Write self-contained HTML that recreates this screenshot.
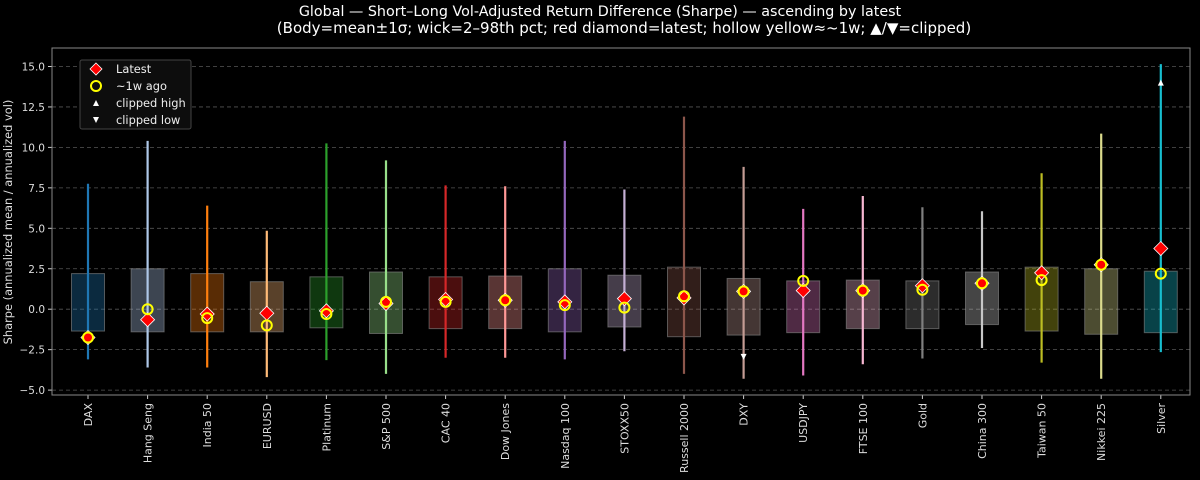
<!DOCTYPE html>
<html><head><meta charset="utf-8"><style>
html,body{margin:0;padding:0;background:#000;}
svg{display:block;font-family:"DejaVu Sans","Liberation Sans",sans-serif;}
</style></head><body>
<svg id="s" width="1200" height="480" xmlns="http://www.w3.org/2000/svg"></svg>
<script>
const s=document.getElementById('s');
const X0=52,X1=1190,T=48,B=395;
const y=v=>309.2-v*16.18;
const x=i=>88+i*59.6;
let h='<rect width="1200" height="480" fill="#000"/>';
h+='<text x="600" y="16" fill="#fff" font-size="14.3" text-anchor="middle">Global — Short–Long Vol-Adjusted Return Difference (Sharpe) — ascending by latest</text>';
h+='<text x="624" y="33" fill="#fff" font-size="15" text-anchor="middle">(Body=mean±1σ; wick=2–98th pct; red diamond=latest; hollow yellow≈~1w; ▲/▼=clipped)</text>';
for(let v=-5;v<=15;v+=2.5){const yy=y(v);
h+=`<line x1="${X0}" x2="${X1}" y1="${yy}" y2="${yy}" stroke="#555" stroke-dasharray="4,3" stroke-width="0.8"/>`;
h+=`<line x1="${X0-4}" x2="${X0}" y1="${yy}" y2="${yy}" stroke="#ccc"/>`;
h+=`<text x="${X0-7}" y="${yy+4}" fill="#ddd" font-size="10.5" text-anchor="end">${v<0?'−'+(-v).toFixed(1):v.toFixed(1)}</text>`;}
h+=`<text transform="translate(12,222) rotate(-90)" fill="#ddd" font-size="11.4" text-anchor="middle">Sharpe (annualized mean / annualized vol)</text>`;
const D=[
["DAX",2.2,-1.35,7.75,-3.1,-1.75,-1.75,"#1f77b4"],
["Hang Seng",2.5,-1.4,10.4,-3.6,-0.65,0,"#aec7e8"],
["India 50",2.2,-1.4,6.4,-3.6,-0.3,-0.55,"#ff7f0e"],
["EURUSD",1.7,-1.4,4.85,-4.2,-0.25,-1.0,"#ffbb78"],
["Platinum",2.0,-1.15,10.25,-3.15,-0.1,-0.3,"#2ca02c"],
["S&amp;P 500",2.3,-1.5,9.2,-4.0,0.35,0.45,"#98df8a"],
["CAC 40",2.0,-1.2,7.65,-3.0,0.6,0.45,"#d62728"],
["Dow Jones",2.05,-1.2,7.6,-3.0,0.55,0.55,"#ff9896"],
["Nasdaq 100",2.5,-1.4,10.4,-3.1,0.45,0.25,"#9467bd"],
["STOXX50",2.1,-1.1,7.4,-2.6,0.65,0.1,"#c5b0d5"],
["Russell 2000",2.6,-1.7,11.9,-4.0,0.7,0.8,"#8c564b"],
["DXY",1.9,-1.6,8.8,-4.3,1.1,1.1,"#c49c94"],
["USDJPY",1.75,-1.45,6.2,-4.1,1.15,1.75,"#e377c2"],
["FTSE 100",1.8,-1.2,7.0,-3.4,1.15,1.15,"#f7b6d2"],
["Gold",1.75,-1.2,6.3,-3.05,1.45,1.2,"#7f7f7f"],
["China 300",2.3,-0.95,6.05,-2.4,1.6,1.6,"#c7c7c7"],
["Taiwan 50",2.6,-1.35,8.4,-3.3,2.25,1.8,"#bcbd22"],
["Nikkei 225",2.5,-1.55,10.85,-4.3,2.75,2.75,"#dbdb8d"],
["Silver",2.35,-1.45,15.15,-2.65,3.75,2.2,"#17becf"]];
D.forEach((d,i)=>{const cx=x(i);
h+=`<rect x="${cx-16.5}" y="${y(d[1])}" width="33" height="${y(d[2])-y(d[1])}" fill="${d[7]}" fill-opacity="0.35" stroke="#888" stroke-opacity="0.6" stroke-width="1"/>`;
h+=`<line x1="${cx}" x2="${cx}" y1="${y(d[3])}" y2="${y(d[4])}" stroke="${d[7]}" stroke-width="2.2"/>`;
const ly=y(d[5]);
h+=`<polygon points="${cx},${ly-7} ${cx+7},${ly} ${cx},${ly+7} ${cx-7},${ly}" fill="#f00" stroke="#fff" stroke-width="0.8"/>`;
h+=`<circle cx="${cx}" cy="${y(d[6])}" r="5" fill="none" stroke="#ff0" stroke-width="2"/>`;
h+=`<line x1="${cx}" x2="${cx}" y1="${B}" y2="${B+4}" stroke="#ccc"/>`;
h+=`<text transform="translate(${cx+4},${B+8}) rotate(-90)" fill="#ddd" font-size="11" text-anchor="end">${d[0]}</text>`;
});
let c=x(11),cy=y(-2.95);h+=`<polygon points="${c-3},${cy-3} ${c+3},${cy-3} ${c},${cy+3}" fill="#fff"/>`;
c=x(18);cy=y(14.0);h+=`<polygon points="${c-3},${cy+3} ${c+3},${cy+3} ${c},${cy-3}" fill="#fff"/>`;
h+=`<rect x="${X0}" y="${T}" width="${X1-X0}" height="${B-T}" fill="none" stroke="#888" stroke-width="1"/>`;
h+=`<rect x="80" y="60" width="111" height="69" rx="2" fill="#0d0d0d" stroke="#444"/>`;
h+=`<polygon points="96,63 102,69 96,75 90,69" fill="#f00" stroke="#fff" stroke-width="0.8"/>`;
h+=`<circle cx="96" cy="86" r="5" fill="none" stroke="#ff0" stroke-width="2"/>`;
h+=`<polygon points="93,106 99,106 96,100" fill="#fff"/>`;
h+=`<polygon points="93,117 99,117 96,123" fill="#fff"/>`;
[["Latest",73],["~1w ago",90],["clipped high",107],["clipped low",124]].forEach(e=>{h+=`<text x="116" y="${e[1]}" fill="#eee" font-size="11.4">${e[0]}</text>`;});
s.innerHTML=h;
</script>
</body></html>
